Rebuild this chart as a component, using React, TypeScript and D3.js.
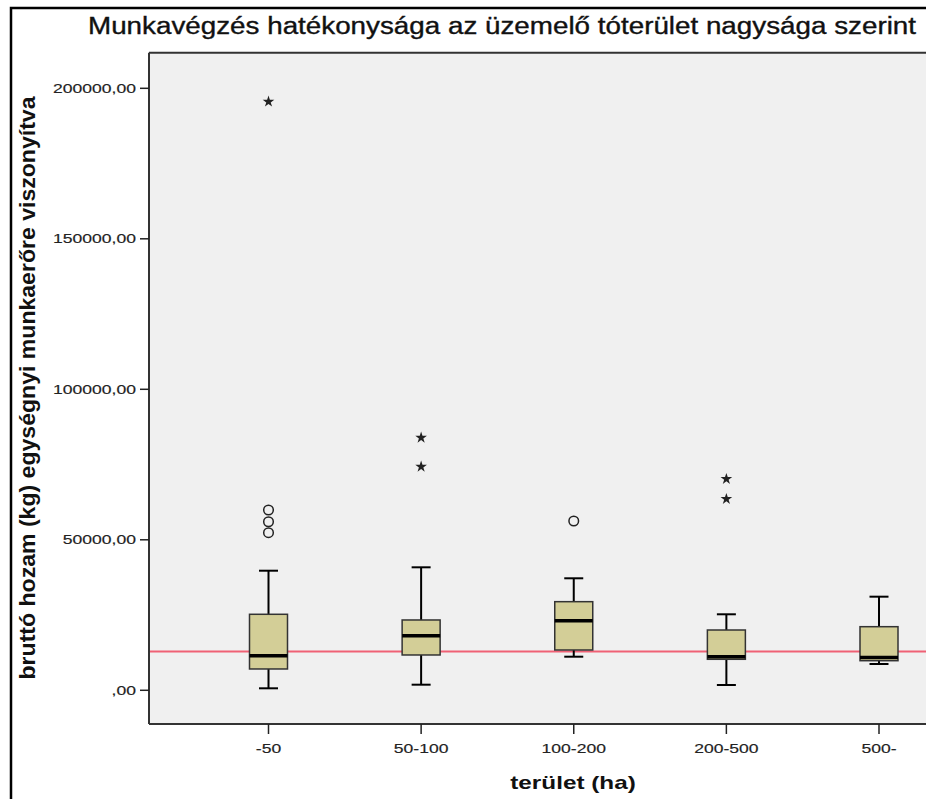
import React from "react";
import * as d3 from "d3";

const categories = ["-50", "50-100", "100-200", "200-500", "500-"];
const whiskerLow = [660, 1860, 11160, 1760, 8740];
const q1 = [7080, 11730, 13390, 10300, 9830];
const medians = [11500, 18140, 23120, 11160, 10900];
const q3 = [25250, 23360, 29440, 20030, 21130];
const whiskerHigh = [39730, 40860, 37210, 25250, 31100];
const mildOutliers: number[][] = [[59900, 56010, 52360], [], [56250], [], []];
const extremeOutliers: number[][] = [[195560], [83920, 74290], [], [70200, 63550], []];
const referenceValue = 12890;
const yTicks = [0, 50000, 100000, 150000, 200000];

const title = "Munkavégzés hatékonysága az üzemelő tóterület nagysága szerint";
const yLabel = "bruttó hozam (kg) egységnyi munkaerőre viszonyítva";
const xLabel = "terület (ha)";

const W = 926;
const H = 799;
const plotLeft = 149;
const plotTop = 52.7;
const plotBottom = 724;
const SX = 1.35;
const FONT = "'Liberation Sans', Arial, sans-serif";

export default function App() {
  const x = d3.scalePoint<string>().domain(categories).range([268.5, 879]);
  const y = d3.scaleLinear().domain([-11200, 211830]).range([plotBottom, plotTop]);
  const fmt = (v: number) => (v === 0 ? ",00" : `${v},00`);
  const boxHalf = 19;
  const capHalf = 9.5;
  const star = d3.symbol().type(d3.symbolStar).size(42)() as string;

  return (
    <svg
      width={W}
      height={H}
      style={{ position: "absolute", left: 0, top: 0, background: "#fff" }}
      fontFamily={FONT}
    >
      <rect x={0} y={0} width={W} height={H} fill="#fff" />
      {/* outer frame */}
      <rect x={11} y={8} width={W + 50} height={H + 50} fill="none" stroke="#000" strokeWidth={2.5} />
      {/* title */}
      <text x={502} y={34} fontSize={23} textAnchor="middle" fill="#111" stroke="#111" strokeWidth={0.35} textLength={828} lengthAdjust="spacingAndGlyphs">
        {title}
      </text>
      {/* plot area */}
      <rect x={plotLeft} y={plotTop} width={W - plotLeft + 10} height={plotBottom - plotTop} fill="#f0f0f0" />
      <line x1={plotLeft} x2={W} y1={plotTop} y2={plotTop} stroke="#333" strokeWidth={2} />
      <line x1={plotLeft} x2={W} y1={plotBottom} y2={plotBottom} stroke="#333" strokeWidth={2} />
      <line x1={plotLeft} x2={plotLeft} y1={plotTop} y2={plotBottom} stroke="#333" strokeWidth={2} />

      {/* y ticks */}
      {yTicks.map((t) => (
        <g key={t}>
          <line x1={140} x2={plotLeft} y1={y(t)} y2={y(t)} stroke="#222" strokeWidth={1.5} />
          <g transform={`translate(136,${y(t) + 4.6}) scale(${SX},1)`}>
            <text x={0} y={0} fontSize={13} textAnchor="end" fill="#222" stroke="#222" strokeWidth={0.15}>
              {fmt(t)}
            </text>
          </g>
        </g>
      ))}

      {/* x ticks */}
      {categories.map((c) => (
        <g key={c}>
          <line x1={x(c)!} x2={x(c)!} y1={plotBottom} y2={plotBottom + 10} stroke="#222" strokeWidth={1.5} />
          <g transform={`translate(${x(c)!},753) scale(${SX},1)`}>
            <text x={0} y={0} fontSize={13} textAnchor="middle" fill="#222" stroke="#222" strokeWidth={0.15}>
              {c}
            </text>
          </g>
        </g>
      ))}

      {/* reference line */}
      <line x1={plotLeft + 1} x2={W} y1={y(referenceValue)} y2={y(referenceValue)} stroke="#ef6175" strokeWidth={2} />

      {/* boxes */}
      {categories.map((c, i) => {
        const cx = x(c)!;
        return (
          <g key={c}>
            <line x1={cx} x2={cx} y1={y(whiskerHigh[i])} y2={y(q3[i])} stroke="#000" strokeWidth={2} />
            <line x1={cx} x2={cx} y1={y(q1[i])} y2={y(whiskerLow[i])} stroke="#000" strokeWidth={2} />
            <line x1={cx - capHalf} x2={cx + capHalf} y1={y(whiskerHigh[i])} y2={y(whiskerHigh[i])} stroke="#000" strokeWidth={2} />
            <line x1={cx - capHalf} x2={cx + capHalf} y1={y(whiskerLow[i])} y2={y(whiskerLow[i])} stroke="#000" strokeWidth={2} />
            <rect
              x={cx - boxHalf}
              y={y(q3[i])}
              width={boxHalf * 2}
              height={y(q1[i]) - y(q3[i])}
              fill="#d3ce97"
              stroke="#333"
              strokeWidth={1.5}
            />
            <line x1={cx - boxHalf} x2={cx + boxHalf} y1={y(medians[i])} y2={y(medians[i])} stroke="#000" strokeWidth={3.5} />
            {mildOutliers[i].map((v, j) => (
              <circle key={"m" + j} cx={cx} cy={y(v)} r={4.8} fill="none" stroke="#222" strokeWidth={1.5} />
            ))}
            {extremeOutliers[i].map((v, j) => (
              <path key={"e" + j} d={star} transform={`translate(${cx},${y(v)})`} fill="#222" />
            ))}
          </g>
        );
      })}

      {/* axis labels */}
      <g transform={`translate(573,789) scale(${SX},1)`}>
        <text x={0} y={0} fontSize={18} fontWeight="bold" textAnchor="middle" fill="#111">
          {xLabel}
        </text>
      </g>
      <g transform={`translate(35,388) scale(${SX},1) rotate(-90)`}>
        <text x={0} y={0} fontSize={17} fontWeight="bold" textAnchor="middle" fill="#111" textLength={583} lengthAdjust="spacingAndGlyphs">
          {yLabel}
        </text>
      </g>
    </svg>
  );
}
